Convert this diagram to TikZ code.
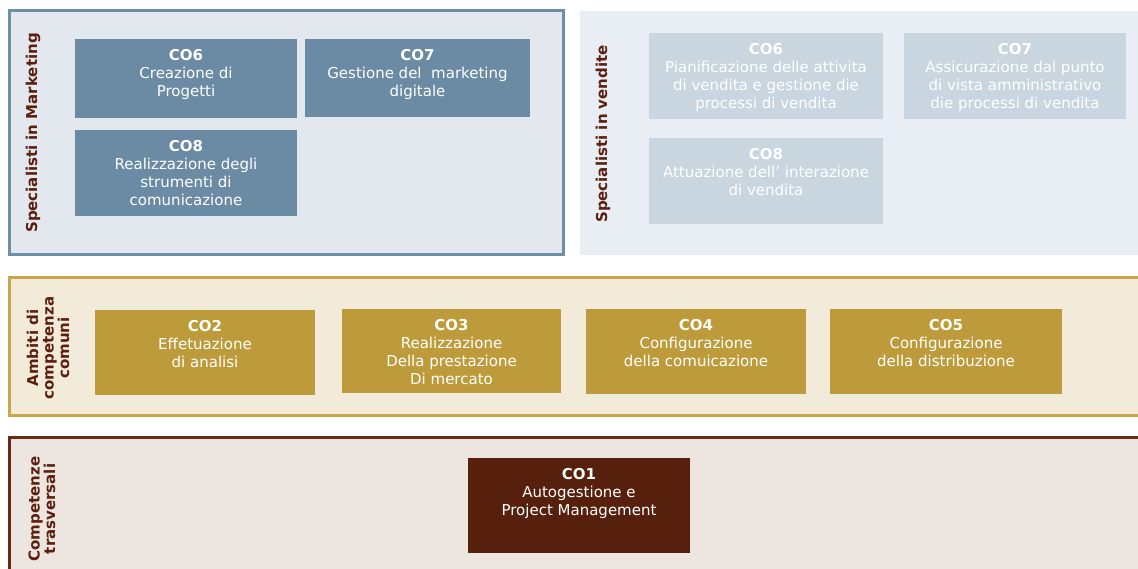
\documentclass[tikz,border=0pt]{standalone}
\usepackage{fontspec}
\setmainfont{DejaVu Sans}

\definecolor{mkframe}{HTML}{6E90A6}
\definecolor{mkfill}{HTML}{E2E8EE}
\definecolor{mkbox}{HTML}{6A8BA3}
\definecolor{vdfill}{HTML}{E8EEF3}
\definecolor{vdbox}{HTML}{C9D6DF}
\definecolor{cmframe}{HTML}{C8A64A}
\definecolor{cmfill}{HTML}{F3EBD9}
\definecolor{cmbox}{HTML}{BD9B3B}
\definecolor{trframe}{HTML}{6B2A17}
\definecolor{trfill}{HTML}{EDE6E0}
\definecolor{trbox}{HTML}{57200C}
\definecolor{labelbrown}{HTML}{5C1E0E}

\tikzstyle{panel}=[line width=3pt]
\tikzstyle{cbox}=[inner sep=0pt, outer sep=0pt]
\tikzstyle{ctext}=[anchor=north, yshift=-10.5pt, inner sep=0pt, text=white, align=center, font=\fontsize{15}{18}\selectfont]
\tikzstyle{sidelabel}=[rotate=90, inner sep=0pt, text=labelbrown, align=center, font=\bfseries\fontsize{15}{15.5}\selectfont]

\begin{document}
\begin{tikzpicture}[x=1pt, y=-1pt]
    \clip (0,0) rectangle (1138,569);
    % First we draw the panels
    \draw[panel, mkframe, fill=mkfill] (9,11) rectangle (563,255);
    \fill[vdfill] (580,11) rectangle (1150,255);
    \draw[panel, cmframe, fill=cmfill] (9,278) rectangle (1150,415);
    \draw[panel, trframe, fill=trfill] (9,437) rectangle (1150,590);
    % Panel titles
    \node[sidelabel] (mktitle) at (33,133) {Specialisti in Marketing};
    \node[sidelabel] (vdtitle) at (603,134) {Specialisti in vendite};
    \node[sidelabel] (cmtitle) at (48,348) {Ambiti di\\competenza\\comuni};
    \node[sidelabel] (trtitle) at (42,509) {Competenze\\trasversali};
    % Competence boxes: centre/name/width/height/text
    \foreach \pos/\name/\w/\h/\txt in {
        {(186,78.5)/mkA/222/79/{\textbf{CO6}\\Creazione di\\Progetti}},
        {(417.5,78)/mkB/225/78/{\textbf{CO7}\\Gestione del~ marketing\\digitale}},
        {(186,173)/mkC/222/86/{\textbf{CO8}\\Realizzazione degli\\strumenti di\\comunicazione}}}
        \node[cbox, fill=mkbox, minimum width=\w, minimum height=\h,
              label={[ctext]north:\txt}] (\name) at \pos {};
    \foreach \pos/\name/\w/\h/\txt in {
        {(766,76)/vdA/234/86/{\textbf{CO6}\\Pianificazione delle attivita\\di vendita e gestione die\\processi di vendita}},
        {(1015,76)/vdB/222/86/{\textbf{CO7}\\Assicurazione dal punto\\di vista amministrativo\\die processi di vendita}},
        {(766,181)/vdC/234/86/{\textbf{CO8}\\Attuazione dell’ interazione\\di vendita}}}
        \node[cbox, fill=vdbox, minimum width=\w, minimum height=\h,
              label={[ctext]north:\txt}] (\name) at \pos {};
    \foreach \pos/\name/\w/\h/\txt in {
        {(205,352.5)/cmA/220/85/{\textbf{CO2}\\Effetuazione\\di analisi}},
        {(451.5,351)/cmB/219/84/{\textbf{CO3}\\Realizzazione\\Della prestazione\\Di mercato}},
        {(696,351.5)/cmC/220/85/{\textbf{CO4}\\Configurazione\\della comuicazione}},
        {(946,351.5)/cmD/232/85/{\textbf{CO5}\\Configurazione\\della distribuzione}}}
        \node[cbox, fill=cmbox, minimum width=\w, minimum height=\h,
              label={[ctext]north:\txt}] (\name) at \pos {};
    \node[cbox, fill=trbox, minimum width=222, minimum height=95,
          label={[ctext]north:{\textbf{CO1}\\Autogestione e\\Project Management}}] (trA) at (579,505.5) {};
\end{tikzpicture}
\end{document}
